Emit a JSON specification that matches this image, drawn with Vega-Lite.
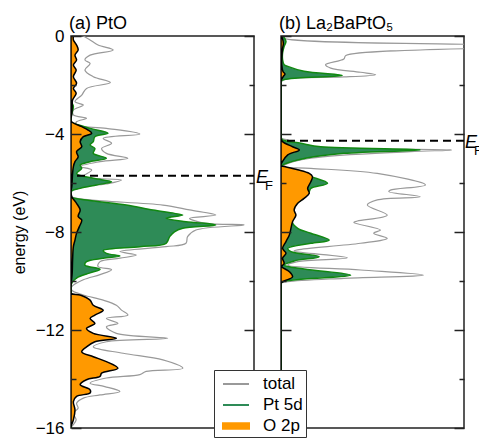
{
  "$schema": "https://vega.github.io/schema/vega-lite/v6.json",
  "padding": {"left": 10, "top": 14, "right": 0, "bottom": 0},
  "spacing": 4,
  "config": {
    "font": "Liberation Sans",
    "view": {"stroke": "#222", "strokeWidth": 1.5}
  },
  "datasets": {
    "a_total": [
      {"s":"total","e":0,"d":0.31},{"s":"total","e":-0.16,"d":0.48},{"s":"total","e":-0.37,"d":0.68},{"s":"total","e":-0.57,"d":1.06},{"s":"total","e":-0.78,"d":0.48},{"s":"total","e":-0.98,"d":0.35},{"s":"total","e":-1.12,"d":0.48},{"s":"total","e":-1.39,"d":0.35},{"s":"total","e":-1.66,"d":0.56},{"s":"total","e":-1.9,"d":0.99},{"s":"total","e":-2.14,"d":0.39},{"s":"total","e":-2.41,"d":0.27},{"s":"total","e":-2.68,"d":0.1},{"s":"total","e":-2.82,"d":0.31},{"s":"total","e":-3.02,"d":0.06},{"s":"total","e":-3.22,"d":0.06},{"s":"total","e":-3.36,"d":0.39},{"s":"total","e":-3.5,"d":0.14},{"s":"total","e":-3.63,"d":0.12},{"s":"total","e":-3.77,"d":0.89},{"s":"total","e":-4.0,"d":1.73},{"s":"total","e":-4.18,"d":0.81},{"s":"total","e":-4.38,"d":1.02},{"s":"total","e":-4.59,"d":0.77},{"s":"total","e":-4.79,"d":0.89},{"s":"total","e":-4.99,"d":1.43},{"s":"total","e":-5.13,"d":0.73},{"s":"total","e":-5.33,"d":0.23},{"s":"total","e":-5.47,"d":0.52},{"s":"total","e":-5.74,"d":0.31},{"s":"total","e":-5.88,"d":1.27},{"s":"total","e":-6.04,"d":0.89},{"s":"total","e":-6.22,"d":0.06},{"s":"total","e":-6.42,"d":0},{"s":"total","e":-6.56,"d":0.02},{"s":"total","e":-6.69,"d":0.48},{"s":"total","e":-6.9,"d":2.31},{"s":"total","e":-7.1,"d":2.98},{"s":"total","e":-7.31,"d":3.64},{"s":"total","e":-7.44,"d":2.98},{"s":"total","e":-7.65,"d":3.39},{"s":"total","e":-7.71,"d":4.35},{"s":"total","e":-7.92,"d":3.14},{"s":"total","e":-8.19,"d":2.93},{"s":"total","e":-8.46,"d":2.89},{"s":"total","e":-8.6,"d":2.39},{"s":"total","e":-8.8,"d":1.23},{"s":"total","e":-8.94,"d":1.64},{"s":"total","e":-9.07,"d":1.23},{"s":"total","e":-9.21,"d":0.73},{"s":"total","e":-9.41,"d":0.68},{"s":"total","e":-9.54,"d":1.02},{"s":"total","e":-9.74,"d":0.73},{"s":"total","e":-9.95,"d":0.31},{"s":"total","e":-10.23,"d":0.02},{"s":"total","e":-10.37,"d":0.02},{"s":"total","e":-10.57,"d":0.31},{"s":"total","e":-10.78,"d":0.81},{"s":"total","e":-10.99,"d":1.14},{"s":"total","e":-11.19,"d":1.27},{"s":"total","e":-11.39,"d":1.43},{"s":"total","e":-11.53,"d":0.89},{"s":"total","e":-11.73,"d":1.18},{"s":"total","e":-11.87,"d":0.89},{"s":"total","e":-12.14,"d":1.14},{"s":"total","e":-12.34,"d":2.43},{"s":"total","e":-12.48,"d":0.89},{"s":"total","e":-12.69,"d":0.56},{"s":"total","e":-12.95,"d":1.31},{"s":"total","e":-13.22,"d":2.31},{"s":"total","e":-13.56,"d":2.81},{"s":"total","e":-13.69,"d":1.89},{"s":"total","e":-13.82,"d":1.73},{"s":"total","e":-13.96,"d":0.89},{"s":"total","e":-14.17,"d":0.48},{"s":"total","e":-14.31,"d":0.85},{"s":"total","e":-14.51,"d":1.23},{"s":"total","e":-14.65,"d":0.73},{"s":"total","e":-14.78,"d":0.31},{"s":"total","e":-14.99,"d":0.14},{"s":"total","e":-15.19,"d":0.18},{"s":"total","e":-15.4,"d":0.06},{"s":"total","e":-15.67,"d":0.13},{"s":"total","e":-15.94,"d":0.02},{"s":"total","e":-16,"d":0}
    ],
    "a_pt": [
      {"s":"Pt 5d","e":0,"d":0.02},{"s":"Pt 5d","e":-1.0,"d":0.02},{"s":"Pt 5d","e":-2.0,"d":0.03},{"s":"Pt 5d","e":-2.7,"d":0.02},{"s":"Pt 5d","e":-2.88,"d":0.06},{"s":"Pt 5d","e":-3.16,"d":0.02},{"s":"Pt 5d","e":-3.5,"d":0},{"s":"Pt 5d","e":-3.56,"d":0.06},{"s":"Pt 5d","e":-3.77,"d":0.48},{"s":"Pt 5d","e":-3.97,"d":0.93},{"s":"Pt 5d","e":-4.11,"d":0.6},{"s":"Pt 5d","e":-4.31,"d":0.56},{"s":"Pt 5d","e":-4.45,"d":0.48},{"s":"Pt 5d","e":-4.59,"d":0.6},{"s":"Pt 5d","e":-4.79,"d":0.56},{"s":"Pt 5d","e":-4.99,"d":0.89},{"s":"Pt 5d","e":-5.13,"d":0.48},{"s":"Pt 5d","e":-5.27,"d":0.23},{"s":"Pt 5d","e":-5.4,"d":0.27},{"s":"Pt 5d","e":-5.61,"d":0.14},{"s":"Pt 5d","e":-5.81,"d":0.56},{"s":"Pt 5d","e":-5.95,"d":1.02},{"s":"Pt 5d","e":-6.08,"d":0.64},{"s":"Pt 5d","e":-6.22,"d":0.23},{"s":"Pt 5d","e":-6.35,"d":0},{"s":"Pt 5d","e":-6.56,"d":0},{"s":"Pt 5d","e":-6.69,"d":0.39},{"s":"Pt 5d","e":-6.9,"d":1.39},{"s":"Pt 5d","e":-7.1,"d":2.06},{"s":"Pt 5d","e":-7.24,"d":2.6},{"s":"Pt 5d","e":-7.31,"d":2.81},{"s":"Pt 5d","e":-7.44,"d":2.39},{"s":"Pt 5d","e":-7.58,"d":2.89},{"s":"Pt 5d","e":-7.71,"d":3.64},{"s":"Pt 5d","e":-7.85,"d":2.81},{"s":"Pt 5d","e":-7.99,"d":2.6},{"s":"Pt 5d","e":-8.19,"d":2.48},{"s":"Pt 5d","e":-8.46,"d":2.39},{"s":"Pt 5d","e":-8.6,"d":1.73},{"s":"Pt 5d","e":-8.76,"d":0.81},{"s":"Pt 5d","e":-8.87,"d":0.89},{"s":"Pt 5d","e":-8.98,"d":1.23},{"s":"Pt 5d","e":-9.07,"d":0.81},{"s":"Pt 5d","e":-9.21,"d":0.39},{"s":"Pt 5d","e":-9.35,"d":0.35},{"s":"Pt 5d","e":-9.52,"d":0.73},{"s":"Pt 5d","e":-9.67,"d":0.48},{"s":"Pt 5d","e":-9.88,"d":0.14},{"s":"Pt 5d","e":-10.16,"d":0},{"s":"Pt 5d","e":-16,"d":0}
    ],
    "a_o": [
      {"s":"O 2p","e":0,"d":0.06},{"s":"O 2p","e":-0.16,"d":0.06},{"s":"O 2p","e":-0.37,"d":0.14},{"s":"O 2p","e":-0.57,"d":0.18},{"s":"O 2p","e":-0.78,"d":0.1},{"s":"O 2p","e":-0.98,"d":0.14},{"s":"O 2p","e":-1.18,"d":0.06},{"s":"O 2p","e":-1.39,"d":0.13},{"s":"O 2p","e":-1.66,"d":0.06},{"s":"O 2p","e":-1.93,"d":0.14},{"s":"O 2p","e":-2.14,"d":0.06},{"s":"O 2p","e":-2.34,"d":0.13},{"s":"O 2p","e":-2.61,"d":0.04},{"s":"O 2p","e":-2.88,"d":0.03},{"s":"O 2p","e":-3.16,"d":0.02},{"s":"O 2p","e":-3.45,"d":0},{"s":"O 2p","e":-3.52,"d":0.03},{"s":"O 2p","e":-3.7,"d":0.27},{"s":"O 2p","e":-3.84,"d":0.43},{"s":"O 2p","e":-3.97,"d":0.52},{"s":"O 2p","e":-4.11,"d":0.31},{"s":"O 2p","e":-4.31,"d":0.23},{"s":"O 2p","e":-4.52,"d":0.27},{"s":"O 2p","e":-4.72,"d":0.14},{"s":"O 2p","e":-4.93,"d":0.18},{"s":"O 2p","e":-5.13,"d":0.1},{"s":"O 2p","e":-5.33,"d":0.06},{"s":"O 2p","e":-5.61,"d":0.04},{"s":"O 2p","e":-5.88,"d":0.03},{"s":"O 2p","e":-6.15,"d":0.02},{"s":"O 2p","e":-6.35,"d":0},{"s":"O 2p","e":-6.56,"d":0.02},{"s":"O 2p","e":-6.83,"d":0.14},{"s":"O 2p","e":-7.1,"d":0.23},{"s":"O 2p","e":-7.37,"d":0.18},{"s":"O 2p","e":-7.51,"d":0.27},{"s":"O 2p","e":-7.78,"d":0.21},{"s":"O 2p","e":-8.05,"d":0.14},{"s":"O 2p","e":-8.33,"d":0.1},{"s":"O 2p","e":-8.6,"d":0.06},{"s":"O 2p","e":-9.14,"d":0.04},{"s":"O 2p","e":-9.67,"d":0.03},{"s":"O 2p","e":-10.23,"d":0},{"s":"O 2p","e":-10.5,"d":0},{"s":"O 2p","e":-10.57,"d":0.23},{"s":"O 2p","e":-10.78,"d":0.48},{"s":"O 2p","e":-10.99,"d":0.56},{"s":"O 2p","e":-11.19,"d":0.81},{"s":"O 2p","e":-11.39,"d":0.6},{"s":"O 2p","e":-11.53,"d":0.48},{"s":"O 2p","e":-11.73,"d":0.6},{"s":"O 2p","e":-11.94,"d":0.39},{"s":"O 2p","e":-12.14,"d":0.56},{"s":"O 2p","e":-12.34,"d":1.14},{"s":"O 2p","e":-12.48,"d":0.6},{"s":"O 2p","e":-12.69,"d":0.39},{"s":"O 2p","e":-12.89,"d":0.27},{"s":"O 2p","e":-13.09,"d":0.56},{"s":"O 2p","e":-13.29,"d":0.89},{"s":"O 2p","e":-13.56,"d":1.18},{"s":"O 2p","e":-13.76,"d":0.77},{"s":"O 2p","e":-13.89,"d":0.73},{"s":"O 2p","e":-14.03,"d":0.39},{"s":"O 2p","e":-14.23,"d":0.23},{"s":"O 2p","e":-14.44,"d":0.48},{"s":"O 2p","e":-14.57,"d":0.48},{"s":"O 2p","e":-14.71,"d":0.14},{"s":"O 2p","e":-14.92,"d":0.06},{"s":"O 2p","e":-15.26,"d":0.1},{"s":"O 2p","e":-15.67,"d":0.06},{"s":"O 2p","e":-15.94,"d":0},{"s":"O 2p","e":-16,"d":0}
    ],
    "b_total": [
      {"s":"total","e":0,"d":0.04},{"s":"total","e":-0.08,"d":0.05},{"s":"total","e":-0.42,"d":6.1},{"s":"total","e":-0.8,"d":1.63},{"s":"total","e":-0.94,"d":1.58},{"s":"total","e":-1.17,"d":1.12},{"s":"total","e":-1.31,"d":1.25},{"s":"total","e":-1.48,"d":2.0},{"s":"total","e":-1.58,"d":2.38},{"s":"total","e":-1.67,"d":1.58},{"s":"total","e":-1.71,"d":0.42},{"s":"total","e":-1.78,"d":0.08},{"s":"total","e":-1.9,"d":0},{"s":"total","e":-4.15,"d":0},{"s":"total","e":-4.24,"d":0.17},{"s":"total","e":-4.45,"d":0.42},{"s":"total","e":-4.65,"d":4.29},{"s":"total","e":-4.72,"d":3.25},{"s":"total","e":-4.99,"d":0.75},{"s":"total","e":-5.27,"d":0.08},{"s":"total","e":-5.33,"d":0.04},{"s":"total","e":-5.4,"d":0.75},{"s":"total","e":-5.61,"d":2.42},{"s":"total","e":-6.08,"d":3.63},{"s":"total","e":-6.29,"d":2.75},{"s":"total","e":-6.35,"d":2.71},{"s":"total","e":-6.56,"d":3.5},{"s":"total","e":-6.69,"d":2.42},{"s":"total","e":-6.9,"d":2.17},{"s":"total","e":-7.31,"d":2.67},{"s":"total","e":-7.55,"d":1.92},{"s":"total","e":-7.61,"d":1.83},{"s":"total","e":-7.92,"d":2.5},{"s":"total","e":-8.05,"d":2.33},{"s":"total","e":-8.26,"d":2.67},{"s":"total","e":-8.46,"d":2.0},{"s":"total","e":-8.73,"d":0.42},{"s":"total","e":-8.78,"d":0.33},{"s":"total","e":-9.05,"d":1.67},{"s":"total","e":-9.21,"d":0.42},{"s":"total","e":-9.35,"d":0.17},{"s":"total","e":-9.55,"d":2.0},{"s":"total","e":-9.76,"d":3.58},{"s":"total","e":-9.89,"d":1.58},{"s":"total","e":-10.03,"d":0.17},{"s":"total","e":-10.1,"d":0},{"s":"total","e":-16,"d":0}
    ],
    "b_pt": [
      {"s":"Pt 5d","e":0,"d":0.05},{"s":"Pt 5d","e":-0.22,"d":0.125},{"s":"Pt 5d","e":-0.42,"d":0.08},{"s":"Pt 5d","e":-0.69,"d":0.04},{"s":"Pt 5d","e":-0.97,"d":0.04},{"s":"Pt 5d","e":-1.17,"d":0.08},{"s":"Pt 5d","e":-1.24,"d":0.17},{"s":"Pt 5d","e":-1.44,"d":0.58},{"s":"Pt 5d","e":-1.61,"d":1.54},{"s":"Pt 5d","e":-1.71,"d":0.42},{"s":"Pt 5d","e":-1.78,"d":0.08},{"s":"Pt 5d","e":-1.85,"d":0},{"s":"Pt 5d","e":-4.15,"d":0},{"s":"Pt 5d","e":-4.24,"d":0.04},{"s":"Pt 5d","e":-4.38,"d":0.5},{"s":"Pt 5d","e":-4.52,"d":1.0},{"s":"Pt 5d","e":-4.65,"d":3.5},{"s":"Pt 5d","e":-4.79,"d":1.58},{"s":"Pt 5d","e":-5.06,"d":0.42},{"s":"Pt 5d","e":-5.27,"d":0.04},{"s":"Pt 5d","e":-5.35,"d":0},{"s":"Pt 5d","e":-5.5,"d":0.3},{"s":"Pt 5d","e":-5.74,"d":0.75},{"s":"Pt 5d","e":-6.01,"d":1.17},{"s":"Pt 5d","e":-6.22,"d":0.75},{"s":"Pt 5d","e":-6.35,"d":0.71},{"s":"Pt 5d","e":-6.63,"d":0.55},{"s":"Pt 5d","e":-6.83,"d":0.4},{"s":"Pt 5d","e":-7.1,"d":0.31},{"s":"Pt 5d","e":-7.31,"d":0.35},{"s":"Pt 5d","e":-7.58,"d":0.28},{"s":"Pt 5d","e":-7.85,"d":0.42},{"s":"Pt 5d","e":-8.05,"d":0.75},{"s":"Pt 5d","e":-8.33,"d":1.21},{"s":"Pt 5d","e":-8.46,"d":0.75},{"s":"Pt 5d","e":-8.67,"d":0.17},{"s":"Pt 5d","e":-8.8,"d":0.25},{"s":"Pt 5d","e":-9.01,"d":0.96},{"s":"Pt 5d","e":-9.18,"d":0.33},{"s":"Pt 5d","e":-9.35,"d":0.08},{"s":"Pt 5d","e":-9.51,"d":0.58},{"s":"Pt 5d","e":-9.76,"d":1.75},{"s":"Pt 5d","e":-9.92,"d":0.58},{"s":"Pt 5d","e":-10.03,"d":0.04},{"s":"Pt 5d","e":-10.1,"d":0},{"s":"Pt 5d","e":-16,"d":0}
    ],
    "b_o": [
      {"s":"O 2p","e":0,"d":0.02},{"s":"O 2p","e":-0.3,"d":0.06},{"s":"O 2p","e":-0.5,"d":0.04},{"s":"O 2p","e":-0.9,"d":0.02},{"s":"O 2p","e":-1.2,"d":0.02},{"s":"O 2p","e":-1.45,"d":0.05},{"s":"O 2p","e":-1.55,"d":0.1},{"s":"O 2p","e":-1.65,"d":0.06},{"s":"O 2p","e":-1.75,"d":0.02},{"s":"O 2p","e":-1.85,"d":0},{"s":"O 2p","e":-4.2,"d":0},{"s":"O 2p","e":-4.31,"d":0.04},{"s":"O 2p","e":-4.52,"d":0.29},{"s":"O 2p","e":-4.65,"d":0.46},{"s":"O 2p","e":-4.85,"d":0.17},{"s":"O 2p","e":-5.12,"d":0.04},{"s":"O 2p","e":-5.25,"d":0},{"s":"O 2p","e":-5.3,"d":0},{"s":"O 2p","e":-5.33,"d":0.08},{"s":"O 2p","e":-5.46,"d":0.42},{"s":"O 2p","e":-5.61,"d":0.71},{"s":"O 2p","e":-5.74,"d":0.79},{"s":"O 2p","e":-5.95,"d":0.75},{"s":"O 2p","e":-6.22,"d":0.67},{"s":"O 2p","e":-6.42,"d":0.71},{"s":"O 2p","e":-6.63,"d":0.58},{"s":"O 2p","e":-6.83,"d":0.42},{"s":"O 2p","e":-7.1,"d":0.33},{"s":"O 2p","e":-7.31,"d":0.375},{"s":"O 2p","e":-7.58,"d":0.29},{"s":"O 2p","e":-7.85,"d":0.25},{"s":"O 2p","e":-8.12,"d":0.21},{"s":"O 2p","e":-8.39,"d":0.125},{"s":"O 2p","e":-8.67,"d":0.04},{"s":"O 2p","e":-8.87,"d":0.125},{"s":"O 2p","e":-9.07,"d":0.04},{"s":"O 2p","e":-9.28,"d":0.08},{"s":"O 2p","e":-9.41,"d":0.02},{"s":"O 2p","e":-9.62,"d":0.21},{"s":"O 2p","e":-9.83,"d":0.29},{"s":"O 2p","e":-10.0,"d":0.08},{"s":"O 2p","e":-10.1,"d":0},{"s":"O 2p","e":-16,"d":0}
    ],
    "ef_a": [{"ef": -5.7}],
    "ef_b": [{"ef": -4.28}],
    "title_a": [{"t": "(a) PtO", "e": 0, "d": 0}],
    "title_b": [{"t": "(b) La₂BaPtO₅", "e": 0, "d": 0}]
  },
  "hconcat": [
    {
      "width": 183, "height": 392,
      "layer": [
        {
          "data": {"name": "a_total"},
          "mark": {"type": "line", "strokeWidth": 1.2, "clip": true, "interpolate": "catmull-rom"},
          "encoding": {
            "y": {"field": "e", "type": "quantitative", "scale": {"domain": [-16, 0], "nice": false},
              "axis": {"orient": "left", "values": [0,-2,-4,-6,-8,-10,-12,-14,-16], "labelExpr": "datum.value % 4 === 0 ? datum.label : ''",
                "tickSize": {"condition": {"test": "datum.value % 4 === 0", "value": -10}, "value": -5},
                "tickColor": "#222", "tickWidth": 1.5, "domain": false, "grid": false, "zindex": 1,
                "labelFontSize": 17, "labelColor": "black", "labelPadding": 17,
                "title": "energy (eV)", "titleFontSize": 16, "titleFontWeight": "normal", "titleColor": "black", "titlePadding": 8}},
            "x": {"field": "d", "type": "quantitative", "scale": {"domain": [0, 4.6], "nice": false}, "axis": null, "stack": null},
            "order": {"field": "e", "sort": "descending"},
            "color": {"field": "s", "type": "nominal",
              "scale": {"domain": ["total", "Pt 5d", "O 2p"], "range": ["#999999", "#2e8b57", "#ff9900"]},
              "legend": {"orient": "none", "legendX": 143, "legendY": 334, "title": null,
                "strokeColor": "#333", "fillColor": "white", "padding": 3, "rowPadding": 2,
                "labelFontSize": 17, "labelColor": "black", "symbolSize": 400, "symbolOffset": 8, "labelOffset": 16,
                "encode": {"symbols": {"update": {
                  "shape": {"signal": "datum.value === 'O 2p' ? 'M-1.3,-0.28H1.3V0.28H-1.3Z' : 'M-1.3,0H1.3'"},
                  "fill": {"signal": "datum.value === 'O 2p' ? '#ff9900' : 'transparent'"},
                  "stroke": {"signal": "datum.value === 'O 2p' ? '#000000' : (datum.value === 'total' ? '#999999' : '#118811')"},
                  "strokeWidth": {"value": 2},
                  "strokeOpacity": {"value": 1},
                  "fillOpacity": {"value": 1},
                  "size": {"value": 400},
                  "opacity": {"value": 1}
                }}}}}
          }
        },
        {
          "data": {"name": "a_pt"},
          "mark": {"type": "area", "orient": "horizontal", "stroke": "#118811", "strokeWidth": 1.5, "clip": true, "interpolate": "catmull-rom"},
          "encoding": {
            "y": {"field": "e", "type": "quantitative",
              "axis": {"orient": "right", "values": [0,-2,-4,-6,-8,-10,-12,-14,-16], "labels": false, "title": null,
                "tickSize": {"condition": {"test": "datum.value % 4 === 0", "value": -10}, "value": -5},
                "tickColor": "#222", "tickWidth": 1.5, "domain": false, "grid": false, "zindex": 1}},
            "x": {"field": "d", "type": "quantitative", "axis": null, "stack": null},
            "color": {"field": "s", "type": "nominal"}
          }
        },
        {
          "data": {"name": "a_o"},
          "mark": {"type": "area", "orient": "horizontal", "stroke": "#000000", "strokeWidth": 1.5, "clip": true, "interpolate": "catmull-rom"},
          "encoding": {
            "y": {"field": "e", "type": "quantitative", "axis": null},
            "x": {"field": "d", "type": "quantitative", "axis": null, "stack": null},
            "color": {"field": "s", "type": "nominal"}
          }
        },
        {
          "data": {"name": "ef_a"},
          "mark": {"type": "rule", "strokeDash": [8, 5], "strokeWidth": 2, "color": "black"},
          "encoding": {"y": {"field": "ef", "type": "quantitative", "axis": null}}
        },
        {
          "data": {"name": "ef_a"},
          "mark": {"type": "text", "text": "E", "fontStyle": "italic", "fontSize": 18, "align": "left", "baseline": "alphabetic", "dx": 2, "dy": 7, "color": "black"},
          "encoding": {"x": {"datum": 4.6, "type": "quantitative", "axis": null}, "y": {"field": "ef", "type": "quantitative", "axis": null}}
        },
        {
          "data": {"name": "ef_a"},
          "mark": {"type": "text", "text": "F", "fontSize": 13, "align": "left", "baseline": "alphabetic", "dx": 11, "dy": 14, "color": "black"},
          "encoding": {"x": {"datum": 4.6, "type": "quantitative", "axis": null}, "y": {"field": "ef", "type": "quantitative", "axis": null}}
        },
        {
          "data": {"name": "title_a"},
          "mark": {"type": "text", "fontSize": 18, "align": "left", "baseline": "alphabetic", "dx": -2, "dy": -7, "color": "black"},
          "encoding": {"text": {"field": "t"}, "x": {"field": "d", "type": "quantitative", "axis": null}, "y": {"field": "e", "type": "quantitative", "axis": null}}
        }
      ],
      "resolve": {"axis": {"y": "independent"}}
    },
    {
      "width": 183, "height": 392,
      "layer": [
        {
          "data": {"name": "b_total"},
          "mark": {"type": "line", "strokeWidth": 1.2, "clip": true, "interpolate": "catmull-rom"},
          "encoding": {
            "y": {"field": "e", "type": "quantitative", "scale": {"domain": [-16, 0], "nice": false},
              "axis": {"orient": "left", "values": [0,-2,-4,-6,-8,-10,-12,-14,-16], "labels": false, "title": null,
                "tickSize": {"condition": {"test": "datum.value % 4 === 0", "value": -10}, "value": -5},
                "tickColor": "#222", "tickWidth": 1.5, "domain": false, "grid": false, "zindex": 1}},
            "x": {"field": "d", "type": "quantitative", "scale": {"domain": [0, 4.6], "nice": false}, "axis": null, "stack": null},
            "order": {"field": "e", "sort": "descending"},
            "color": {"field": "s", "type": "nominal"}
          }
        },
        {
          "data": {"name": "b_pt"},
          "mark": {"type": "area", "orient": "horizontal", "stroke": "#118811", "strokeWidth": 1.5, "clip": true, "interpolate": "catmull-rom"},
          "encoding": {
            "y": {"field": "e", "type": "quantitative",
              "axis": {"orient": "right", "values": [0,-2,-4,-6,-8,-10,-12,-14,-16], "labels": false, "title": null,
                "tickSize": {"condition": {"test": "datum.value % 4 === 0", "value": -10}, "value": -5},
                "tickColor": "#222", "tickWidth": 1.5, "domain": false, "grid": false, "zindex": 1}},
            "x": {"field": "d", "type": "quantitative", "axis": null, "stack": null},
            "color": {"field": "s", "type": "nominal"}
          }
        },
        {
          "data": {"name": "b_o"},
          "mark": {"type": "area", "orient": "horizontal", "stroke": "#000000", "strokeWidth": 1.5, "clip": true, "interpolate": "catmull-rom"},
          "encoding": {
            "y": {"field": "e", "type": "quantitative", "axis": null},
            "x": {"field": "d", "type": "quantitative", "axis": null, "stack": null},
            "color": {"field": "s", "type": "nominal"}
          }
        },
        {
          "data": {"name": "ef_b"},
          "mark": {"type": "rule", "strokeDash": [8, 5], "strokeWidth": 2, "color": "black"},
          "encoding": {"y": {"field": "ef", "type": "quantitative", "axis": null}}
        },
        {
          "data": {"name": "ef_b"},
          "mark": {"type": "text", "text": "E", "fontStyle": "italic", "fontSize": 18, "align": "left", "baseline": "alphabetic", "dx": 1, "dy": 7, "color": "black"},
          "encoding": {"x": {"datum": 4.6, "type": "quantitative", "axis": null}, "y": {"field": "ef", "type": "quantitative", "axis": null}}
        },
        {
          "data": {"name": "ef_b"},
          "mark": {"type": "text", "text": "F", "fontSize": 13, "align": "left", "baseline": "alphabetic", "dx": 10, "dy": 14, "color": "black"},
          "encoding": {"x": {"datum": 4.6, "type": "quantitative", "axis": null}, "y": {"field": "ef", "type": "quantitative", "axis": null}}
        },
        {
          "data": {"name": "title_b"},
          "mark": {"type": "text", "fontSize": 18, "align": "left", "baseline": "alphabetic", "dx": -2, "dy": -7, "color": "black"},
          "encoding": {"text": {"field": "t"}, "x": {"field": "d", "type": "quantitative", "axis": null}, "y": {"field": "e", "type": "quantitative", "axis": null}}
        }
      ],
      "resolve": {"axis": {"y": "independent"}}
    }
  ]
}
